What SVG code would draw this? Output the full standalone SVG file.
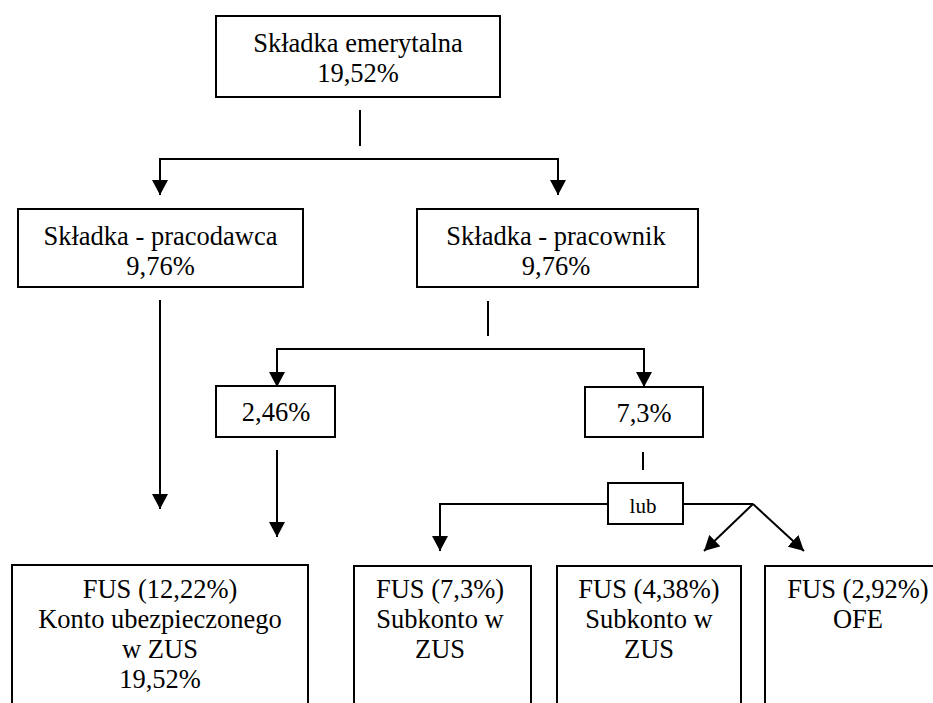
<svg xmlns="http://www.w3.org/2000/svg" width="933" height="703" viewBox="0 0 933 703">
<style>
.box{fill:#fff;stroke:#000;stroke-width:2}
.t{font-family:"Liberation Serif","Times New Roman",serif;font-size:26.5px;fill:#000;text-anchor:middle}
.s{font-family:"Liberation Serif","Times New Roman",serif;font-size:21px;fill:#000;text-anchor:middle}
.c{fill:none;stroke:#000;stroke-width:2}
.a{marker-end:url(#arr)}
</style>
<defs>
<marker id="arr" viewBox="0 0 15 16" refX="15" refY="8" markerWidth="15" markerHeight="16" markerUnits="userSpaceOnUse" orient="auto">
<path d="M0,0 L15,8 L0,16 z" fill="#000"/>
</marker>
</defs>
<rect width="933" height="703" fill="#fff"/>
<g id="connectors">
<line class="c" x1="360" y1="110" x2="360" y2="146"/>
<polyline class="c a" points="358,159 160,159 160,195"/>
<polyline class="c a" points="358,159 558,159 558,195"/>
<line class="c a" x1="160" y1="300" x2="160" y2="509"/>
<line class="c" x1="488" y1="301" x2="488" y2="336"/>
<polyline class="c a" points="488,349 277,349 277,387"/>
<polyline class="c a" points="488,349 644,349 644,387"/>
<line class="c a" x1="277" y1="450" x2="277" y2="537"/>
<line class="c" x1="643" y1="452" x2="643" y2="470"/>
<polyline class="c a" points="608,504 440,504 440,551"/>
<line class="c" x1="683" y1="504" x2="753" y2="504"/>
<line class="c a" x1="753" y1="504" x2="704" y2="551"/>
<line class="c a" x1="753" y1="504" x2="804" y2="551"/>
</g>
<g id="n-emerytalna">
<rect class="box" x="216" y="16" width="284" height="81"/>
<text class="t" x="358" y="52">Składka emerytalna</text>
<text class="t" x="358" y="82">19,52%</text>
</g>
<g id="n-pracodawca">
<rect class="box" x="18" y="209" width="285" height="78"/>
<text class="t" x="160.5" y="245">Składka - pracodawca</text>
<text class="t" x="160.5" y="275">9,76%</text>
</g>
<g id="n-pracownik">
<rect class="box" x="417" y="209" width="281" height="78"/>
<text class="t" x="556" y="245">Składka - pracownik</text>
<text class="t" x="556" y="275">9,76%</text>
</g>
<g id="n-246">
<rect class="box" x="216" y="386" width="119" height="51"/>
<text class="t" x="276" y="421">2,46%</text>
</g>
<g id="n-73">
<rect class="box" x="585" y="387" width="118" height="50"/>
<text class="t" x="644" y="422">7,3%</text>
</g>
<g id="n-lub">
<rect class="box" x="608" y="483" width="75" height="41"/>
<text class="s" x="643" y="513">lub</text>
</g>
<g id="n-fus1">
<rect class="box" x="12" y="565" width="296" height="160"/>
<text class="t" x="160" y="598">FUS (12,22%)</text>
<text class="t" x="160" y="628">Konto ubezpieczonego</text>
<text class="t" x="160" y="658">w ZUS</text>
<text class="t" x="160" y="688">19,52%</text>
</g>
<g id="n-fus2">
<rect class="box" x="354" y="566" width="177" height="160"/>
<text class="t" x="440" y="598">FUS (7,3%)</text>
<text class="t" x="440" y="628">Subkonto w</text>
<text class="t" x="440" y="658">ZUS</text>
</g>
<g id="n-fus3">
<rect class="box" x="557" y="566" width="184" height="160"/>
<text class="t" x="649" y="598">FUS (4,38%)</text>
<text class="t" x="649" y="628">Subkonto w</text>
<text class="t" x="649" y="658">ZUS</text>
</g>
<g id="n-fus4">
<rect class="box" x="765" y="566" width="186" height="160"/>
<text class="t" x="858" y="598">FUS (2,92%)</text>
<text class="t" x="858" y="628">OFE</text>
</g>
</svg>
